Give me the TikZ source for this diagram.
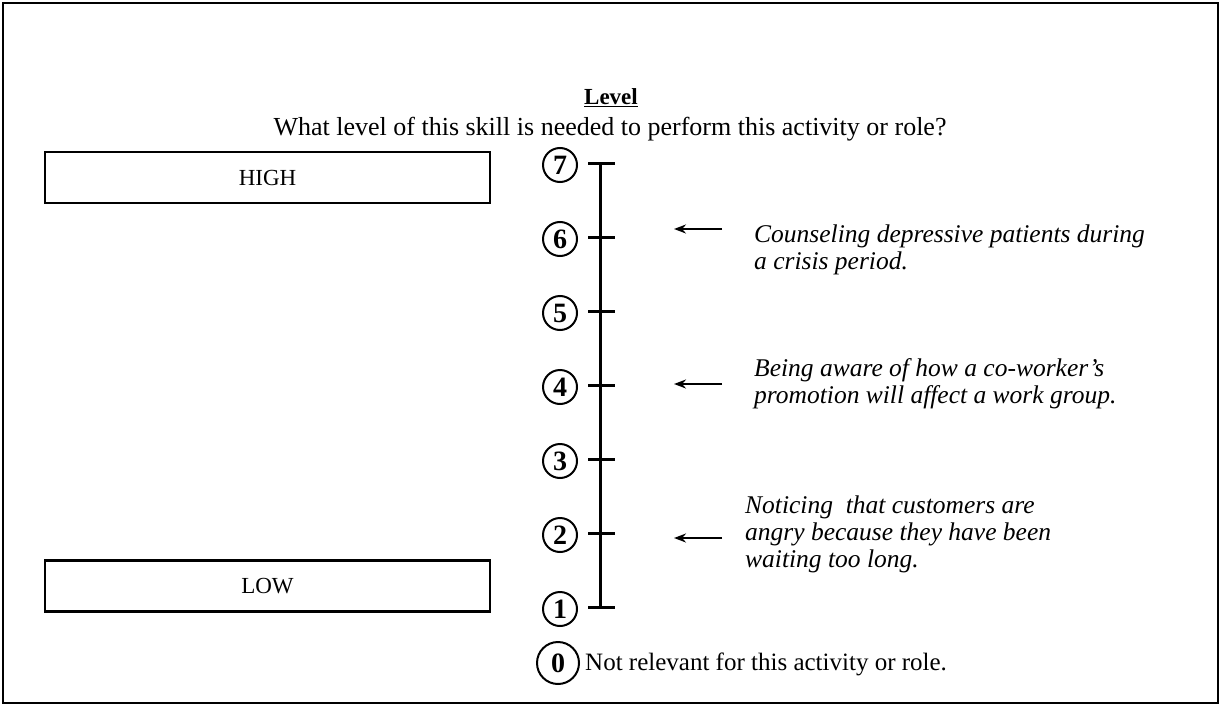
\documentclass[tikz,border=0pt]{standalone}
\usepackage{fontspec}
\setmainfont{Liberation Serif}
\usetikzlibrary{arrows.meta}
\begin{document}
\begin{tikzpicture}[x=1pt,y=-1pt,
  frame/.style={line width=2.8pt},
  levelbox/.style={draw,line width=2.2pt,minimum width=445pt,minimum height=51pt,inner sep=0pt,font=\fontsize{23}{26}\selectfont},
  num/.style={draw,circle,line width=2pt,minimum size=34pt,inner sep=0pt,font=\fontsize{28}{30}\selectfont\bfseries},
  tickline/.style={line width=3pt},
  example/.style={anchor=north west,align=left,inner sep=0pt,font=\fontsize{25.5}{27}\selectfont\itshape},
  pointer/.style={line width=2pt,-{Stealth[length=12pt,width=9pt]}}]
\useasboundingbox (0,0) rectangle (1222,706);
\draw[frame] (3,3) rectangle (1218,703);
\node[font=\fontsize{23}{26}\selectfont\bfseries] (title) at (611,98) {\underline{Level}};
\node[font=\fontsize{26}{28}\selectfont] (question) at (610,129) {What level of this skill is needed to perform this activity or role?};
\node[levelbox] (high) at (267.5,177.5) {HIGH};
\node[levelbox] (low) at (267.5,586) {LOW};
% scale
\coordinate (top) at (600,163);
\coordinate (bot) at (600,607);
\draw[tickline] (top) -- (bot);
\foreach \n/\y in {7/163,6/237,5/311,4/385,3/459,2/533,1/607}{
  \coordinate (t\n) at (600,\y);
  \draw[tickline] ([xshift=-12pt]t\n) -- ([xshift=15pt]t\n);
  \node[num] (c\n) at (560,\y+2) {\n};
}
\node[num,minimum size=42pt] (c0) at (558,663) {0};
\node[anchor=west,inner sep=0pt,font=\fontsize{25}{28}\selectfont] (notrel) at (585,664) {Not relevant for this activity or role.};
% examples
\node[example] (ex6) at (754,225) {Counseling depressive patients during\\a crisis period.};
\node[example] (ex4) at (754,358) {Being aware of how a co-worker's\\promotion will affect a work group.};
\node[example] (ex2) at (745,496) {Noticing\ \ that customers are\\angry because they have been\\waiting too long.};
\coordinate (a6) at (674,229);
\coordinate (a4) at (674,384);
\coordinate (a2) at (674,538);
\draw[pointer] (a6 -| 722,0) -- (a6);
\draw[pointer] (a4 -| 722,0) -- (a4);
\draw[pointer] (a2 -| 722,0) -- (a2);
\end{tikzpicture}
\end{document}
